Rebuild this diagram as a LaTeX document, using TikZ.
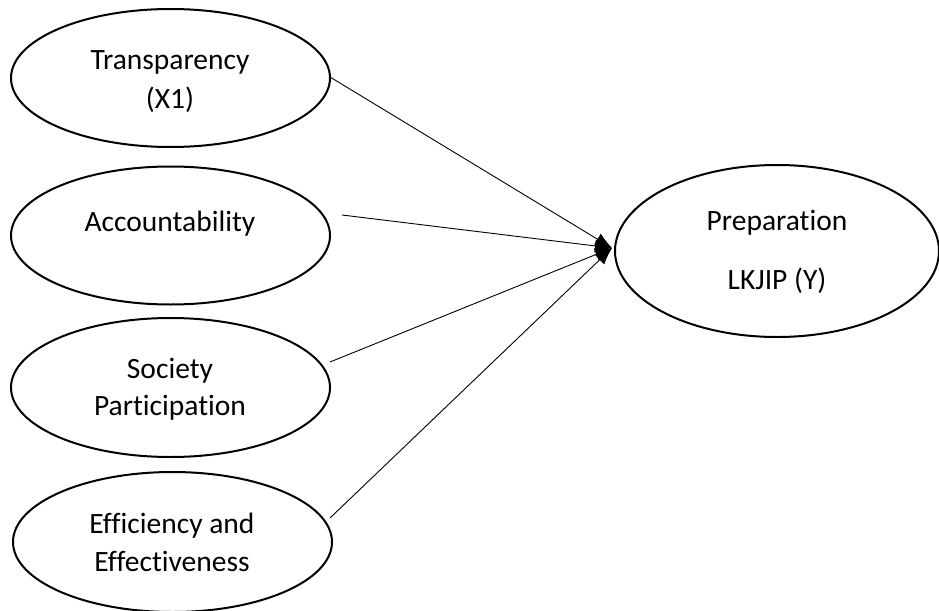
\documentclass[tikz,border=0pt]{standalone}
\usepackage{fontspec}
\setmainfont{Carlito}[Ligatures={NoCommon,NoRare}]
\usetikzlibrary{shapes.geometric,arrows.meta}
\begin{document}
\begin{tikzpicture}[x=1pt,y=-1pt,
  oval/.style={draw,ellipse,line width=2pt,inner sep=0pt},
  lbl/.style={align=center,font=\fontsize{29.5}{35}\selectfont,inner sep=0pt},
  conn/.style={line width=0.9pt,-{Latex[length=17pt,width=13pt]}}]
\useasboundingbox (0,0) rectangle (939,610);
\node[oval,minimum width=319pt,minimum height=138pt] (T) at (170.5,78) {};
\node[oval,minimum width=319pt,minimum height=138pt] (A) at (170.5,235.5) {};
\node[oval,minimum width=319pt,minimum height=139pt] (S) at (170.5,387.5) {};
\node[oval,minimum width=319pt,minimum height=140pt] (E) at (172.5,542) {};
\node[oval,minimum width=324pt,minimum height=172pt] (P) at (777,251) {};
\node[lbl] (Tt) at (170,82) {Transparency\\[4pt](X1)};
\node[lbl] (At) at (170,224) {Accountability};
\node[lbl] (St) at (170,389) {Society\\[2pt]Participation};
\node[lbl] (Et) at (172,542) {Efficiency and\\[3pt]Effectiveness};
\node[lbl] (Pt) at (777,252) {Preparation\\[24pt]LKJIP (Y)};
\coordinate (tip) at (612,248);
\coordinate (a1) at (330,77);
\coordinate (a2) at (342,215);
\coordinate (a3) at (330,362);
\coordinate (a4) at (330,518);
\draw[conn] (a1) -- (tip);
\draw[conn] (a2) -- (tip);
\draw[conn] (a3) -- (tip);
\draw[conn] (a4) -- (tip);
\end{tikzpicture}
\end{document}
